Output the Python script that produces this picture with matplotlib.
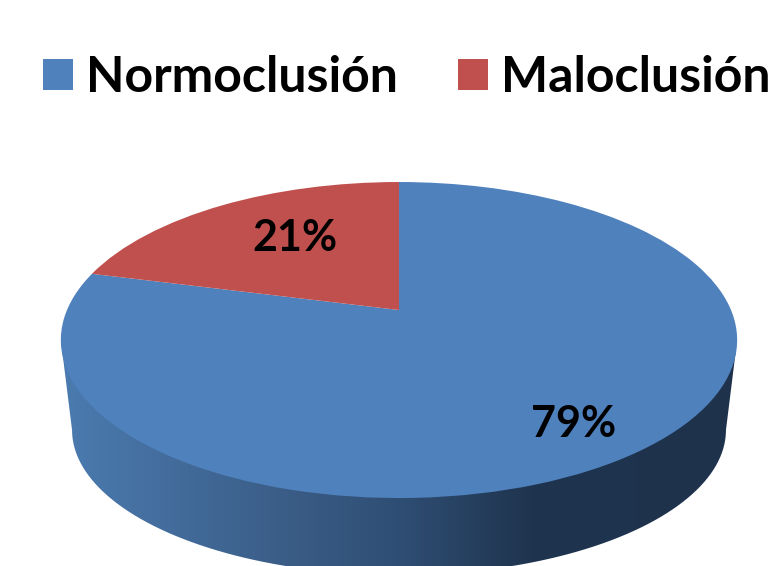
import numpy as np
import matplotlib
matplotlib.use("Agg")
from matplotlib import pyplot as plt
from matplotlib.colors import LinearSegmentedColormap
from matplotlib.path import Path
from matplotlib.transforms import Transform

labels = ['Normoclusión', 'Maloclusión']
values = [79, 21]
colors = ['#4F81BD', '#C0504D']
label_pos = [(574, 424), (295, 238)]

plt.rcParams['font.family'] = ['Lato', 'DejaVu Sans']

W, H = 779, 566
CX = 399
K = 0.19


class Tilt(Transform):
    # unit disc -> pixels, with perspective (far side of the disc is squeezed)
    input_dims = 2
    output_dims = 2

    def __init__(self, cy, a, b):
        super().__init__()
        self.cy, self.a, self.b = cy, a, b

    def transform_non_affine(self, xy):
        xy = np.asarray(xy, dtype=float)
        d = 1 + K * xy[:, 1]
        return np.column_stack([CX + self.a * xy[:, 0] / d, self.cy - self.b * xy[:, 1] / d])


top = Tilt(310, 332, 152.3)
low = Tilt(402.5, 321, 139.7)

fig = plt.figure(figsize=(W / 100, H / 100), dpi=100)
ax = fig.add_axes([0, 0, 1, 1])

# side wall: gradient clipped to the outline between the two rims
t0 = np.arcsin(K)
t = np.linspace(np.pi + t0, 2 * np.pi - t0, 200)
rim = low.transform_non_affine(np.column_stack([np.cos(t), np.sin(t)]))
ends = top.transform_non_affine(np.column_stack([np.cos(t[[0, -1]]), np.sin(t[[0, -1]])]))
outline = np.vstack([ends[:1], rim, ends[1:], ends[:1]])

wall = LinearSegmentedColormap.from_list('wall', [
    (0.0, '#4B7BB0'), (0.32, '#3B5E88'), (0.5, '#2F4E74'), (0.7, '#1F344E'), (1.0, '#1E324C')])
im = ax.imshow(np.linspace(0, 1, 256)[None, :], cmap=wall, aspect='auto', extent=(61, 736, H, 0))
im.set_clip_path(Path(outline), ax.transData)

wedges, _, autotexts = ax.pie(values, colors=colors, startangle=90, counterclock=False,
                              radius=1, autopct='%.0f%%', wedgeprops={'linewidth': 0})
for w in wedges:
    w.set_transform(top + ax.transData)
    w.set_zorder(2)
for txt, pos in zip(autotexts, label_pos):
    txt.set_position(pos)
    txt.set(fontsize=31, fontweight='bold', color='black', ha='center', va='center', zorder=3)

ax.set_aspect('auto')
ax.set_xlim(0, W)
ax.set_ylim(H, 0)
ax.axis('off')

leg = ax.legend(wedges, labels, ncol=2, frameon=False, loc='upper left',
                bbox_to_anchor=(43 / W, 1 - 55 / H), borderpad=0, borderaxespad=0,
                prop={'size': 36, 'weight': 'bold'}, handlelength=0.6, handleheight=0.6,
                handletextpad=0.25, columnspacing=1.22)

fig.savefig('out.png', dpi=100)
